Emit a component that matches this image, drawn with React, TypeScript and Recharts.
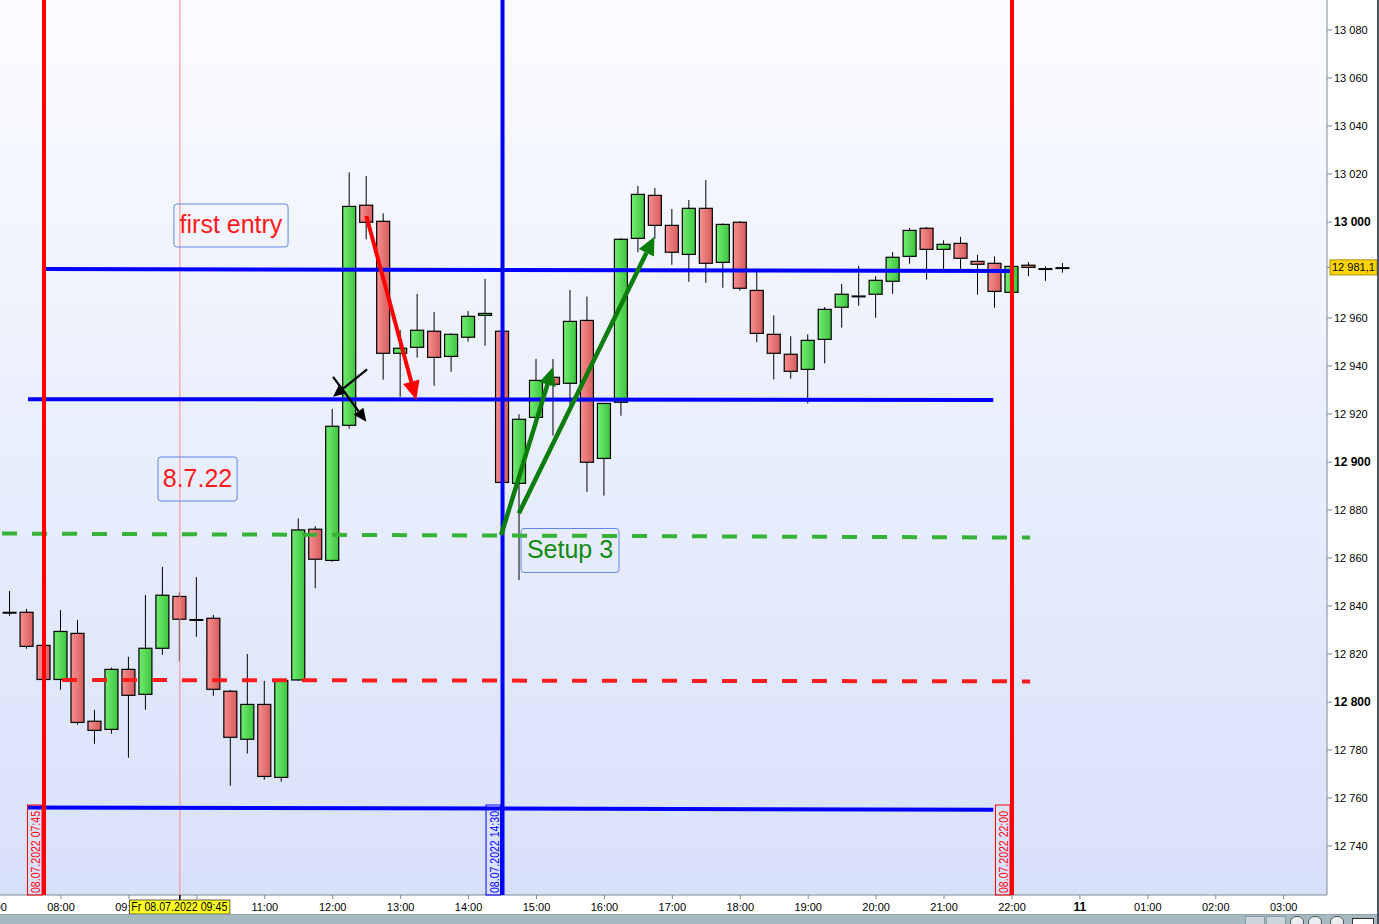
import React from "react";
import {
  ComposedChart, Bar, XAxis, YAxis, CartesianGrid, ReferenceLine, ReferenceArea,
} from "recharts";

const W = 1379;
const H = 924;
const Y_AXIS_W = 52;
const X_AXIS_H = 29;
const FONT = "Arial, 'Liberation Sans', sans-serif";

// 15 minute bars, Fr 08.07.2022 (slot 0 = 08:00)
const times = [
  "07:00", "07:15", "07:30", "07:45", "08:00", "08:15", "08:30", "08:45",
  "09:00", "09:15", "09:30", "09:45", "10:00", "10:15", "10:30", "10:45",
  "11:00", "11:15", "11:30", "11:45", "12:00", "12:15", "12:30", "12:45",
  "13:00", "13:15", "13:30", "13:45", "14:00", "14:15", "14:30", "14:45",
  "15:00", "15:15", "15:30", "15:45", "16:00", "16:15", "16:30", "16:45",
  "17:00", "17:15", "17:30", "17:45", "18:00", "18:15", "18:30", "18:45",
  "19:00", "19:15", "19:30", "19:45", "20:00", "20:15", "20:30", "20:45",
  "21:00", "21:15", "21:30", "21:45", "22:00", "22:15", "22:30", "22:45",
];
const opens = [
  12848.8, 12837.2, 12837.4, 12823.6, 12809.4, 12828.6, 12792.0, 12788.6,
  12813.6, 12803.2, 12822.4, 12844.0, 12834.2, 12834.9, 12804.5, 12784.5,
  12799.0, 12768.6, 12809.2, 12872.0, 12859.0, 12915.3, 13007.0, 13000.3,
  12945.3, 12947.8, 12954.5, 12944.0, 12952.0, 12961.1, 12954.5, 12891.1,
  12918.6, 12935.3, 12932.8, 12959.0, 12901.5, 12924.9, 12993.2, 13011.1,
  12998.6, 12986.5, 13005.7, 12983.2, 12999.9, 12971.5, 12953.2, 12944.9,
  12938.6, 12951.1, 12964.5, 12969.0, 12969.9, 12975.3, 12985.7, 12997.4,
  12988.6, 12991.1, 12983.6, 12982.8, 12970.7, 12982.0, 12980.4, 12980.8,
];
const highs = [
  12852.0, 12846.3, 12838.8, 12824.5, 12838.3, 12834.2, 12796.7, 12814.3,
  12818.8, 12844.6, 12856.3, 12845.7, 12852.1, 12836.3, 12805.0, 12820.0,
  12808.8, 12809.5, 12876.5, 12873.3, 12922.1, 13020.7, 13019.2, 13003.6,
  12955.0, 12970.0, 12962.5, 12953.6, 12962.9, 12976.3, 12955.0, 12919.9,
  12942.9, 12942.9, 12971.7, 12968.9, 12924.6, 12993.3, 13015.0, 13014.2,
  13005.4, 13009.2, 13017.5, 12999.4, 13000.4, 12980.0, 12961.1, 12952.4,
  12953.2, 12964.6, 12974.2, 12981.7, 12977.4, 12987.5, 12997.5, 12997.9,
  12992.4, 12993.8, 12986.3, 12985.7, 12981.8, 12983.3, 12981.5, 12982.9,
];
const lows = [
  12835.0, 12835.9, 12822.2, 12808.5, 12805.1, 12790.6, 12782.6, 12786.8,
  12776.8, 12796.8, 12819.7, 12817.0, 12827.2, 12802.6, 12765.1, 12778.5,
  12767.6, 12766.8, 12808.8, 12847.4, 12858.5, 12913.9, 12992.8, 12934.3,
  12927.2, 12943.5, 12931.8, 12937.6, 12950.1, 12948.5, 12891.0, 12850.8,
  12918.0, 12911.0, 12923.8, 12887.6, 12886.0, 12919.3, 12987.4, 12993.0,
  12982.2, 12975.1, 12974.7, 12972.6, 12971.4, 12949.9, 12934.4, 12934.7,
  12924.4, 12941.1, 12956.0, 12965.1, 12960.1, 12970.1, 12982.6, 12976.0,
  12980.4, 12980.0, 12969.7, 12964.3, 12970.2, 12977.4, 12975.5, 12978.9,
];
const closes = [
  12837.2, 12837.2, 12823.2, 12809.4, 12829.4, 12791.5, 12788.2, 12813.6,
  12802.8, 12822.4, 12844.5, 12834.5, 12834.2, 12805.3, 12785.3, 12799.0,
  12769.0, 12809.0, 12871.7, 12859.5, 12914.9, 13006.5, 12999.9, 12945.3,
  12947.4, 12954.9, 12943.6, 12953.2, 12960.7, 12961.9, 12891.5, 12917.8,
  12934.0, 12932.4, 12958.6, 12899.9, 12924.4, 12992.8, 13011.5, 12998.6,
  12987.4, 13005.7, 12982.8, 12999.0, 12972.4, 12953.6, 12945.3, 12937.8,
  12950.7, 12963.6, 12969.9, 12969.0, 12975.7, 12985.3, 12996.5, 12988.6,
  12990.7, 12984.9, 12982.4, 12971.1, 12981.5, 12981.1, 12980.4, 12980.8,
];
const lastPrice = 12981.1;

const yTicks = [
  12740, 12760, 12780, 12800, 12820, 12840, 12860, 12880, 12900,
  12920, 12940, 12960, 13000, 13020, 13040, 13060, 13080,
];
const xTickSlots = [-4, 0, 4, 7, 8, 12, 16, 20, 24, 28, 32, 36, 40, 44, 48, 52, 56, 60, 64, 68, 72];
const xTickLabels = [
  "07:00", "08:00", "09:00", "Fr 08.07.2022 09:45", "", "11:00", "12:00", "13:00", "14:00",
  "15:00", "16:00", "17:00", "18:00", "19:00", "20:00", "21:00", "22:00", "11", "01:00", "02:00", "03:00",
];
const cursorSlot = 7;

// drawn annotations, [slotFrom, priceFrom, slotTo, priceTo]
const blueLevels = [
  [-1, 12980.4, 56.1, 12979.6],
  [-1.94, 12926.2, 54.9, 12925.8],
  [-1.94, 12756.1, 54.9, 12755.1],
];
const greenDashed = [-3.59, 12870.2, 57.07, 12868.5];
const redDashed = [0.06, 12809.2, 57.07, 12808.6];
const redArrow = [17.98, 13002.5, 20.92, 12925.8];
const blackArrows = [
  [18.02, 12938.6, 16.02, 12927.2],
  [16.02, 12935.5, 17.98, 12916.8],
];
const greenArrows = [
  [25.92, 12869.6, 28.96, 12939.5],
  [26.96, 12878.6, 34.94, 12993.9],
];
const sessionMarks = [
  { slot: -1, label: "08.07.2022 07:45" },
  { slot: 26, label: "08.07.2022 14:30" },
  { slot: 56, label: "08.07.2022 22:00" },
];
const notes = [
  { text: "first entry", s1: 6.65, s2: 13.37, p1: 12989.6, p2: 13007.5 },
  { text: "8.7.22", s1: 5.71, s2: 10.37, p1: 12883.75, p2: 12902.1 },
  { text: "Setup 3", s1: 27.09, s2: 32.86, p1: 12854.0, p2: 12872.3 },
];

const data = times.map((t, i) => ({
  k: i - 4, time: t, open: opens[i], high: highs[i], low: lows[i], close: closes[i],
}));

const fmtPrice = (v: number, dec = 0) => {
  const [int, frac] = v.toFixed(dec).split(".");
  const s = int.slice(0, -3) + " " + int.slice(-3);
  return frac ? s + "," + frac : s;
};

function Candle(props: any) {
  const { x, width, payload } = props;
  let { y, height } = props;
  if (!payload || height == null) return null;
  if (height < 0) { y += height; height = -height; }
  const { open, close, high, low } = payload;
  const ppu = height / (high - low);
  const top = y + (high - Math.max(open, close)) * ppu;
  const bot = y + (high - Math.min(open, close)) * ppu;
  const cx = x + width / 2;
  return (
    <g>
      <line x1={cx} x2={cx} y1={y} y2={y + height} stroke="#000" strokeWidth={1} />
      {open === close ? (
        <line x1={x} x2={x + width} y1={top} y2={top} stroke="#000" strokeWidth={2} />
      ) : (
        <rect
          x={x + 0.5} y={top} width={width - 1} height={Math.max(bot - top, 1.5)}
          fill={close > open ? "url(#candleUp)" : "url(#candleDown)"}
          stroke="#000" strokeWidth={1.2}
        />
      )}
    </g>
  );
}

const arrowShape = (color: string, w: number, len: number, wid: number) => (p: any) => {
  const dx = p.x2 - p.x1;
  const dy = p.y2 - p.y1;
  const d = Math.hypot(dx, dy) || 1;
  const ux = dx / d, uy = dy / d;
  const bx = p.x2 - ux * len, by = p.y2 - uy * len;
  const nx = -uy * wid / 2, ny = ux * wid / 2;
  return (
    <g>
      <line x1={p.x1} y1={p.y1} x2={bx} y2={by} stroke={color} strokeWidth={w} />
      <polygon points={`${p.x2},${p.y2} ${bx + nx},${by + ny} ${bx - nx},${by - ny}`} fill={color} />
    </g>
  );
};

const vLineShape = (color: string, w: number, label?: string) => (p: any) => {
  const x = p.x1;
  const top = Math.min(p.y1, p.y2);
  const bot = Math.max(p.y1, p.y2);
  return (
    <g>
      <line x1={x} x2={x} y1={top} y2={bot} stroke={color} strokeWidth={w} />
      {label && (
        <g>
          <rect x={x - 16.5} y={bot - 90} width={14.5} height={90} fill="none" stroke={color} strokeWidth={1} />
          <text
            transform={`translate(${x - 4}, ${bot - 2}) rotate(-90)`}
            fontSize={12} fontFamily={FONT} fill={color}
            textLength={82} lengthAdjust="spacingAndGlyphs"
          >
            {label}
          </text>
        </g>
      )}
    </g>
  );
};

const noteShape = (text: string, color: string) => (p: any) => (
  <g>
    <rect x={p.x} y={p.y} width={p.width} height={p.height} rx={3} fill="none" stroke="#5f86e6" strokeWidth={1} />
    <text
      x={p.x + p.width / 2} y={p.y + p.height / 2 + 8} textAnchor="middle"
      fontSize={25} fontFamily={FONT} fill={color}
    >
      {text}
    </text>
  </g>
);

function PriceTag(p: any) {
  const x = Math.max(p.x1, p.x2);
  const y = p.y1;
  return (
    <g>
      <line x1={x} x2={x + 5} y1={y} y2={y} stroke="#6f7c88" />
      <rect x={x + 3} y={y - 7.5} width={47} height={15} fill="#ffd400" stroke="#a88f00" strokeWidth={1} />
      <text x={x + 5} y={y + 4} fontSize={11} fontFamily={FONT} fill="#000">{fmtPrice(lastPrice, 1)}</text>
    </g>
  );
}

function XTick(props: any) {
  const { x, payload } = props;
  const label = xTickLabels[xTickSlots.indexOf(payload.value)];
  const base = H - X_AXIS_H;
  if (payload.value === cursorSlot) {
    return (
      <g>
        <line x1={x} x2={x} y1={base} y2={base + 5} stroke="#000" strokeWidth={1.5} />
        <rect x={x - 50.5} y={base + 5} width={100.5} height={14} fill="#ffff1e" stroke="#333" strokeWidth={0.8} />
        <text
          x={x - 48.5} y={base + 16} fontSize={12} fontFamily={FONT} fill="#000"
          textLength={96} lengthAdjust="spacingAndGlyphs"
        >
          {label}
        </text>
      </g>
    );
  }
  const bold = label === "11";
  return (
    <text
      x={x} y={base + 16} textAnchor="middle" fontSize={bold ? 12 : 11}
      fontWeight={bold ? "bold" : "normal"} fontFamily={FONT} fill="#000"
    >
      {label}
    </text>
  );
}

function YTick(props: any) {
  const { x, y, payload } = props;
  const bold = payload.value % 100 === 0;
  return (
    <text
      x={x} y={y + 4} textAnchor="start" fontSize={bold ? 12 : 11}
      fontWeight={bold ? "bold" : "normal"} fontFamily={FONT} fill="#000"
    >
      {fmtPrice(payload.value)}
    </text>
  );
}

const seg = (a: number[]) => [{ x: a[0], y: a[1] }, { x: a[2], y: a[3] }];

export default function App() {
  return (
    <div style={{ position: "absolute", left: 0, top: 0, width: W, height: H, background: "#fff", overflow: "hidden" }}>
      <ComposedChart
        width={W} height={H} data={data}
        margin={{ top: 0, right: 0, bottom: 0, left: 0 }}
      >
        <defs>
          <linearGradient id="plotBg" x1="0" y1="0" x2="0" y2="1">
            <stop offset="0%" stopColor="#fbfcff" />
            <stop offset="100%" stopColor="#d8e1fa" />
          </linearGradient>
          <linearGradient id="candleUp" x1="0" y1="0" x2="1" y2="0">
            <stop offset="0%" stopColor="#72ec72" />
            <stop offset="100%" stopColor="#3ec53e" />
          </linearGradient>
          <linearGradient id="candleDown" x1="0" y1="0" x2="1" y2="0">
            <stop offset="0%" stopColor="#f69090" />
            <stop offset="100%" stopColor="#d65c5c" />
          </linearGradient>
        </defs>
        <CartesianGrid horizontal={false} vertical={false} fill="url(#plotBg)" fillOpacity={1} />
        <XAxis
          dataKey="k" type="number" domain={[-3.592, 74.55]} allowDataOverflow
          ticks={xTickSlots} interval={0} height={X_AXIS_H}
          stroke="#7d8a97" tickSize={4} tick={<XTick />}
        />
        <YAxis
          orientation="right" type="number" domain={[12719.6, 13092.5]} allowDataOverflow
          ticks={yTicks} interval={0} width={Y_AXIS_W}
          stroke="#7d8a97" tickSize={5} tickMargin={2} tick={<YTick />}
        />
        <Bar
          dataKey={(d: any) => [d.low, d.high]} shape={Candle}
          barSize={14} isAnimationActive={false}
        />

        <ReferenceLine x={cursorSlot} ifOverflow="visible" zIndex={650} shape={vLineShape("#ff8a8a", 1)} />

        {notes.map((n, i) => (
          <ReferenceArea
            key={"n" + i} x1={n.s1} x2={n.s2} y1={n.p1} y2={n.p2} ifOverflow="visible" zIndex={700}
            shape={noteShape(n.text, n.text === "Setup 3" ? "#128a12" : "#ff1a1a")}
          />
        ))}

        <ReferenceLine
          segment={seg(greenDashed)} ifOverflow="visible" zIndex={700}
          stroke="#36b336" strokeWidth={4} strokeDasharray="15 15" strokeDashoffset={28}
        />
        <ReferenceLine
          segment={seg(redDashed)} ifOverflow="visible" zIndex={700}
          stroke="#ff1c1c" strokeWidth={4} strokeDasharray="15 15"
        />
        {blueLevels.map((b, i) => (
          <ReferenceLine key={"b" + i} segment={seg(b)} ifOverflow="visible" zIndex={700} stroke="#0000ff" strokeWidth={4} />
        ))}
        {sessionMarks.map((m) => (
          <ReferenceLine
            key={m.label} x={m.slot} ifOverflow="visible" zIndex={710}
            shape={vLineShape(m.slot === 26 ? "#0000ff" : "#ff0000", 4, m.label)}
          />
        ))}

        <ReferenceLine segment={seg(redArrow)} ifOverflow="visible" zIndex={720} shape={arrowShape("#ff0000", 4, 19, 17)} />
        {blackArrows.map((a, i) => (
          <ReferenceLine key={"k" + i} segment={seg(a)} ifOverflow="visible" zIndex={720} shape={arrowShape("#000", 2.2, 13, 12)} />
        ))}
        {greenArrows.map((a, i) => (
          <ReferenceLine key={"g" + i} segment={seg(a)} ifOverflow="visible" zIndex={720} shape={arrowShape("#0a7d0a", 4.5, 18, 17)} />
        ))}

        <ReferenceLine y={lastPrice} ifOverflow="visible" zIndex={800} shape={PriceTag} />
      </ComposedChart>
      <div style={{ position: "absolute", left: 0, top: 914, width: W, height: 10, background: "#a5b9c1", borderTop: "1px solid #8ea3ab", boxSizing: "border-box" }} />
      <div style={{ position: "absolute", left: 1245, top: 916, width: 18, height: 8, background: "#c9d5da", border: "1px solid #8a9aa2" }} />
      <div style={{ position: "absolute", left: 1266, top: 916, width: 18, height: 8, background: "#c9d5da", border: "1px solid #8a9aa2" }} />
      <div style={{ position: "absolute", left: 1290, top: 916, width: 12, height: 12, borderRadius: 6, background: "#e8eef0", border: "1px solid #555" }} />
      <div style={{ position: "absolute", left: 1308, top: 916, width: 12, height: 12, borderRadius: 6, background: "#e8eef0", border: "1px solid #555" }} />
      <div style={{ position: "absolute", left: 1330, top: 916, width: 12, height: 12, borderRadius: 6, background: "#e8eef0", border: "1px solid #555" }} />
      <div style={{ position: "absolute", left: 1352, top: 918, width: 20, height: 6, background: "#fff", border: "1px solid #333" }} />
      <div style={{ position: "absolute", left: W - 2, top: 0, width: 2, height: H, background: "#4b5661" }} />
    </div>
  );
}
